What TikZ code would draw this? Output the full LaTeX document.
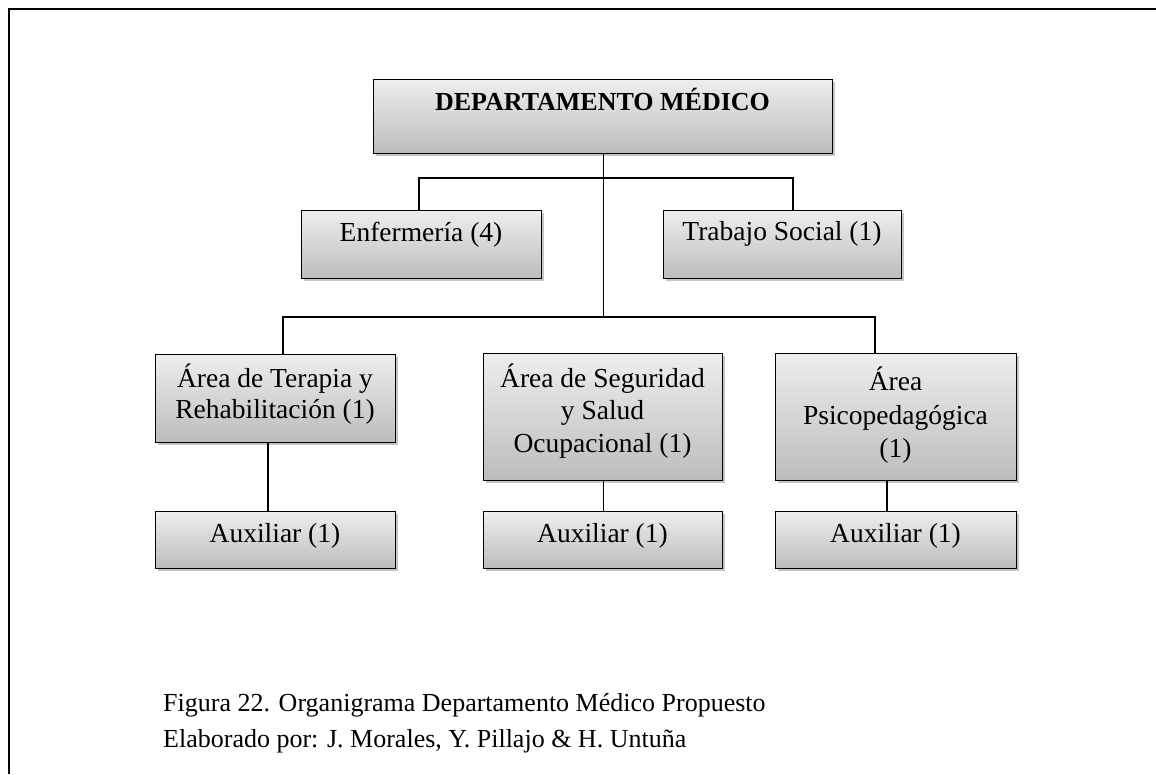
\documentclass[tikz,border=0pt]{standalone}
\usepackage{fontspec}
\setmainfont{Liberation Serif}
\usetikzlibrary{shadows}
\definecolor{boxtop}{RGB}{238,238,238}
\definecolor{boxbot}{RGB}{188,188,188}
\begin{document}
\begin{tikzpicture}[x=1pt,y=-1pt,
  box/.style={draw=black, line width=1.4pt, top color=boxtop, bottom color=boxbot,
    drop shadow={shadow xshift=2pt, shadow yshift=-2pt, fill=gray, opacity=0.45},
    inner sep=0pt, anchor=north west},
  lbl/.style={font=\fontsize{27.5}{33}\selectfont, anchor=base, inner sep=0pt},
  captext/.style={font=\fontsize{26}{31}\selectfont, anchor=base west, inner sep=0pt},
  conn/.style={line width=1.3pt}]
\useasboundingbox (0,0) rectangle (1156,774);
\draw[line width=1.5pt] (9,774) -- (9,9) -- (1156,9);
% boxes
\node[box, minimum width=459pt, minimum height=74pt] (top) at (373,79) {};
\node[box, minimum width=240pt, minimum height=68pt] (enf) at (301,210) {};
\node[box, minimum width=238pt, minimum height=68pt] (tra) at (663,210) {};
\node[box, minimum width=240pt, minimum height=88pt] (ter) at (155,354) {};
\node[box, minimum width=239pt, minimum height=127pt] (seg) at (483,353) {};
\node[box, minimum width=241pt, minimum height=127pt] (psi) at (775,353) {};
\node[box, minimum width=240pt, minimum height=57pt] (a1) at (155,511) {};
\node[box, minimum width=239pt, minimum height=57pt] (a2) at (483,511) {};
\node[box, minimum width=241pt, minimum height=57pt] (a3) at (775,511) {};
% connector junctions
\coordinate (h1L) at (419,178);
\coordinate (h1R) at (793,178);
\coordinate (h2L) at (283,317);
\coordinate (h2R) at (875,317);
\coordinate (v1) at (268,0);
\coordinate (v3) at (887,0);
\draw[conn] (top.south) -- (top.south |- h2L);
\draw[conn] (h1L |- enf.north) -- (h1L) -- (h1R) -- (h1R |- tra.north);
\draw[conn] (h2L |- ter.north) -- (h2L) -- (h2R) -- (h2R |- psi.north);
\draw[conn] (v1 |- ter.south) -- (v1 |- a1.north);
\draw[conn] (seg.south) -- (a2.north);
\draw[conn] (v3 |- psi.south) -- (v3 |- a3.north);
% labels
\node[lbl, font=\bfseries\fontsize{26}{31}\selectfont] (tTop) at (602.5,110) {DEPARTAMENTO MÉDICO};
\node[lbl] (tEnf) at (421,241) {Enfermería (4)};
\node[lbl] (tTra) at (782,240) {Trabajo Social (1)};
\node[lbl] (tTer1) at (275,387) {Área de Terapia y};
\node[lbl] (tTer2) at (275,418) {Rehabilitación (1)};
\node[lbl] (tSeg1) at (602.5,387) {Área de Seguridad};
\node[lbl] (tSeg2) at (602.5,419) {y Salud};
\node[lbl] (tSeg3) at (602.5,452) {Ocupacional (1)};
\node[lbl] (tPsi1) at (895.5,390) {Área};
\node[lbl] (tPsi2) at (895.5,424) {Psicopedagógica};
\node[lbl] (tPsi3) at (895.5,457) {(1)};
\node[lbl] (tA1) at (275,542) {Auxiliar (1)};
\node[lbl] (tA2) at (602.5,542) {Auxiliar (1)};
\node[lbl] (tA3) at (895.5,542) {Auxiliar (1)};
% caption
\node[captext] (c1) at (163,711) {Figura 22. Organigrama Departamento Médico Propuesto};
\node[captext] (c2) at (163,747) {Elaborado por: J. Morales, Y. Pillajo \& H. Untuña};
\end{tikzpicture}
\end{document}
